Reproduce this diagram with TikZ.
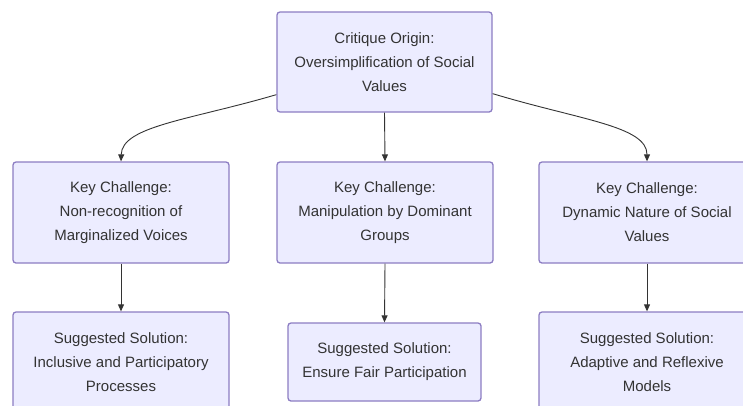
\documentclass[tikz,border=0pt]{standalone}
\usepackage{fontspec}
\setmainfont{Liberation Sans}
\usetikzlibrary{arrows.meta}
\definecolor{boxfill}{HTML}{ECECFF}
\definecolor{boxdraw}{RGB}{140,125,195}
\definecolor{txt}{HTML}{333333}
\tikzset{
  box/.style={draw=boxdraw, fill=boxfill, line width=1.3pt, rounded corners=3pt,
    align=center, text=txt, font=\fontsize{15pt}{24pt}\selectfont, inner sep=0pt},
  conn/.style={draw=txt, line width=0.9pt, -{Triangle[length=7pt,width=6pt]}}
}
\begin{document}
\begin{tikzpicture}[x=1pt,y=-1pt]
\useasboundingbox (0,0) rectangle (743,405);
\clip (0,0) rectangle (743,405);
\fill[white] (0,0) rectangle (743,405);
\node[box, minimum width=215pt, minimum height=100pt] (top) at (384.5,62)
  {Critique Origin:\\Oversimplification of Social\\Values};
\node[box, minimum width=216pt, minimum height=101pt] (k1) at (121,212.5)
  {Key Challenge:\\Non-recognition of\\Marginalized Voices};
\node[box, minimum width=216pt, minimum height=101pt] (k2) at (385,212.5)
  {Key Challenge:\\Manipulation by Dominant\\Groups};
\node[box, minimum width=216pt, minimum height=101pt] (k3) at (647,212.5)
  {Key Challenge:\\Dynamic Nature of Social\\Values};
\node[box, minimum width=216pt, minimum height=101pt] (s1) at (121,362.5)
  {Suggested Solution:\\Inclusive and Participatory\\Processes};
\node[box, minimum width=193pt, minimum height=78pt] (s2) at (384.5,362)
  {Suggested Solution:\\Ensure Fair Participation};
\node[box, minimum width=216pt, minimum height=101pt] (s3) at (647,362.5)
  {Suggested Solution:\\Adaptive and Reflexive\\Models};
\coordinate (a1) at ([yshift=18pt]top.south west);
\coordinate (a3) at ([yshift=19pt]top.south east);
\draw[conn] (a1) .. controls (190,120) and (122,126) .. (k1.north);
\draw[conn] (top.south) -- (k2.north);
\draw[conn] (a3) .. controls (580,120) and (647,126) .. (k3.north);
\draw[conn] (k1.south) -- (s1.north);
\draw[conn] (k2.south) -- (s2.north);
\draw[conn] (k3.south) -- (s3.north);
\end{tikzpicture}
\end{document}
